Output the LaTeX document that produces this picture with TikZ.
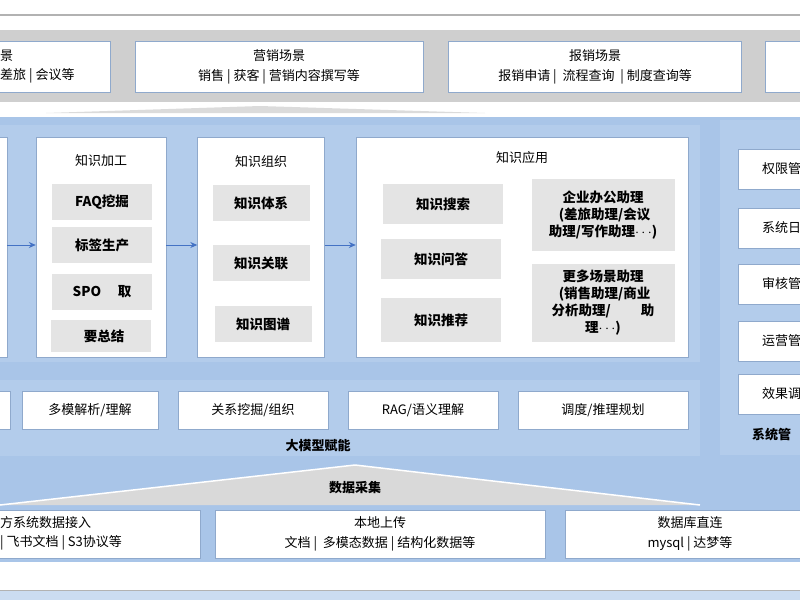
\documentclass[tikz,border=0pt]{standalone}
\usepackage{fontspec}
\setmainfont{Noto Sans CJK SC}
\usetikzlibrary{positioning,arrows.meta}
\definecolor{bandblue}{HTML}{A9C5E8}
\definecolor{panelblue}{HTML}{B3CCEB}
\definecolor{edgeblue}{HTML}{8FA9CC}
\definecolor{arrowblue}{HTML}{4472C4}
\definecolor{bandgray}{HTML}{CFCFCF}
\definecolor{cellgray}{HTML}{E4E4E4}
\tikzset{
  wbox/.style={draw=edgeblue, fill=white, inner sep=0pt},
  gbox/.style={fill=cellgray, inner sep=0pt, font=\bfseries\fontsize{13.5}{17}\selectfont, align=center},
  txt/.style={inner sep=0pt, font=\fontsize{13}{16}\selectfont, align=center},
  flow/.style={draw=arrowblue, line width=1pt, -{Stealth[length=7pt,width=6pt]}}
}
\begin{document}
\begin{tikzpicture}[x=1pt, y=-1pt]
    \useasboundingbox (0,0) rectangle (800,600);
    \clip (0,0) rectangle (800,600);

    % background bands
    \draw[gray!60, line width=1.2pt] (0,15) -- (800,15);
    \fill[bandgray] (0,30) rectangle (800,102);
    \fill[bandgray!75] (46,113) -- (260,106) -- (485,113) -- cycle;
    \fill[bandblue] (0,117) rectangle (800,562);
    \fill[panelblue] (-5,125) rectangle (700,362);
    \fill[panelblue] (-5,380) rectangle (700,456);
    \fill[panelblue] (720,120) rectangle (805,455);
    \fill[white!85!black] (0,505) -- (355,465) -- (700,505) -- cycle;
    \draw[white, line width=1.5pt] (0,505) -- (355,465) -- (700,505);
    \fill[bandblue!60] (0,590) rectangle (800,600);
    \draw[gray!60, line width=1pt] (0,590) -- (800,590);

    % scenario boxes
    \node[wbox, minimum width=190pt, minimum height=51pt] (office) at (15,67) {};
    \node[txt, anchor=west] (officeA) at (0,56) {景};
    \node[txt, anchor=west] (officeB) at (0,76) {差旅 | 会议等};
    \node[wbox, minimum width=288pt, minimum height=51pt] (market) at (279,67)
        {\parbox{288pt}{\centering\fontsize{13}{20}\selectfont 营销场景\\销售 | 获客 | 营销内容撰写等}};
    \node[wbox, minimum width=293pt, minimum height=51pt] (expense) at (595,67)
        {\parbox{293pt}{\centering\fontsize{13}{20}\selectfont 报销场景\\报销申请 | \ 流程查询 \ | 制度查询等}};
    \node[wbox, minimum width=70pt, minimum height=51pt] (other) at (800,67) {};

    % knowledge pipeline
    \node[wbox, minimum width=40pt, minimum height=220pt] (ingest) at (-13,247) {};
    \node[wbox, minimum width=130pt, minimum height=220pt] (process) at (101,247) {};
    \node[wbox, minimum width=127pt, minimum height=220pt] (organize) at (261,247) {};
    \node[wbox, minimum width=332pt, minimum height=220pt] (apply) at (522,247) {};
    \node[txt] (processT) at (101,161) {知识加工};
    \node[txt] (organizeT) at (261,162) {知识组织};
    \node[txt] (applyT) at (522,158) {知识应用};

    \node[gbox, minimum width=100pt, minimum height=36pt] (faq) at (102,202) {FAQ挖掘};
    \node[gbox, minimum width=100pt, minimum height=36pt] (tags) at (102,245) {标签生产};
    \node[gbox, minimum width=100pt, minimum height=36pt] (spo) at (102,292) {SPO \quad 取};
    \node[gbox, minimum width=100pt, minimum height=32pt] (summ) at (101,336) {\ \ 要总结};

    \node[gbox, minimum width=97pt, minimum height=36pt] (system) at (261,203) {知识体系};
    \node[gbox, minimum width=97pt, minimum height=36pt] (relate) at (261,263) {知识关联};
    \node[gbox, minimum width=97pt, minimum height=36pt] (graph) at (263,324) {知识图谱};

    \node[gbox, minimum width=120pt, minimum height=40pt] (search) at (443,204) {知识搜索};
    \node[gbox, minimum width=120pt, minimum height=40pt] (qa) at (441,259) {知识问答};
    \node[gbox, minimum width=120pt, minimum height=44pt] (recommend) at (441,320) {知识推荐};
    \node[gbox, minimum width=143pt, minimum height=72pt] (officeAsst) at (603,215)
        {企业办公助理\\\ (差旅助理/会议\\助理/写作助理$\cdots$)};
    \node[gbox, minimum width=143pt, minimum height=78pt] (moreAsst) at (603,303)
        {更多场景助理\\\ (销售助理/商业\\分析助理/ \qquad 助\\理$\cdots$)};

    \draw[flow] (ingest.east |- 0,245) -- (process.west |- 0,245);
    \draw[flow] (process.east |- 0,245) -- (organize.west |- 0,245);
    \draw[flow] (organize.east |- 0,245) -- (apply.west |- 0,245);

    % model capabilities
    \node[wbox, minimum width=30pt, minimum height=38pt] (mcap0) at (-5,410) {};
    \node[wbox, txt, minimum width=136pt, minimum height=38pt] (parse) at (90,410) {多模解析/理解};
    \node[wbox, txt, minimum width=150pt, minimum height=38pt] (mining) at (253,410) {关系挖掘/组织};
    \node[wbox, txt, minimum width=150pt, minimum height=38pt] (rag) at (423,410) {RAG/语义理解};
    \node[wbox, txt, minimum width=170pt, minimum height=38pt] (plan) at (603,410) {调度/推理规划};
    \node[txt, font=\bfseries\fontsize{13}{16}\selectfont] (modelT) at (318,446) {大模型赋能};

    % system management
    \foreach \name/\y/\lab in {perm/169/权限管, log/228/系统日, audit/284/审核管, ops/341/运营管, tune/394/效果调}{
        \node[wbox, minimum width=80pt, minimum height=40pt] (\name) at (778,\y) {};
        \node[txt, anchor=west] (\name T) at (762,\y) {\lab};
    }
    \node[txt, anchor=west, font=\bfseries\fontsize{13}{16}\selectfont] (sysT) at (752,435) {系统管};

    % data collection
    \node[txt, font=\bfseries\fontsize{13}{16}\selectfont] (collectT) at (355,488) {数据采集};
    \node[wbox, minimum width=220pt, minimum height=48pt] (thirdparty) at (90,534) {};
    \node[txt, anchor=west] (thirdA) at (0,523) {方系统数据接入};
    \node[txt, anchor=west] (thirdB) at (0,543) {| 飞书文档 | S3协议等};
    \node[wbox, minimum width=330pt, minimum height=48pt] (upload) at (380,534)
        {\parbox{330pt}{\centering\fontsize{13}{20}\selectfont 本地上传\\文档 | \ 多模态数据 | 结构化数据等}};
    \node[wbox, minimum width=250pt, minimum height=48pt] (database) at (690,534)
        {\parbox{250pt}{\centering\fontsize{13}{20}\selectfont 数据库直连\\mysql | 达梦等}};
\end{tikzpicture}
\end{document}
